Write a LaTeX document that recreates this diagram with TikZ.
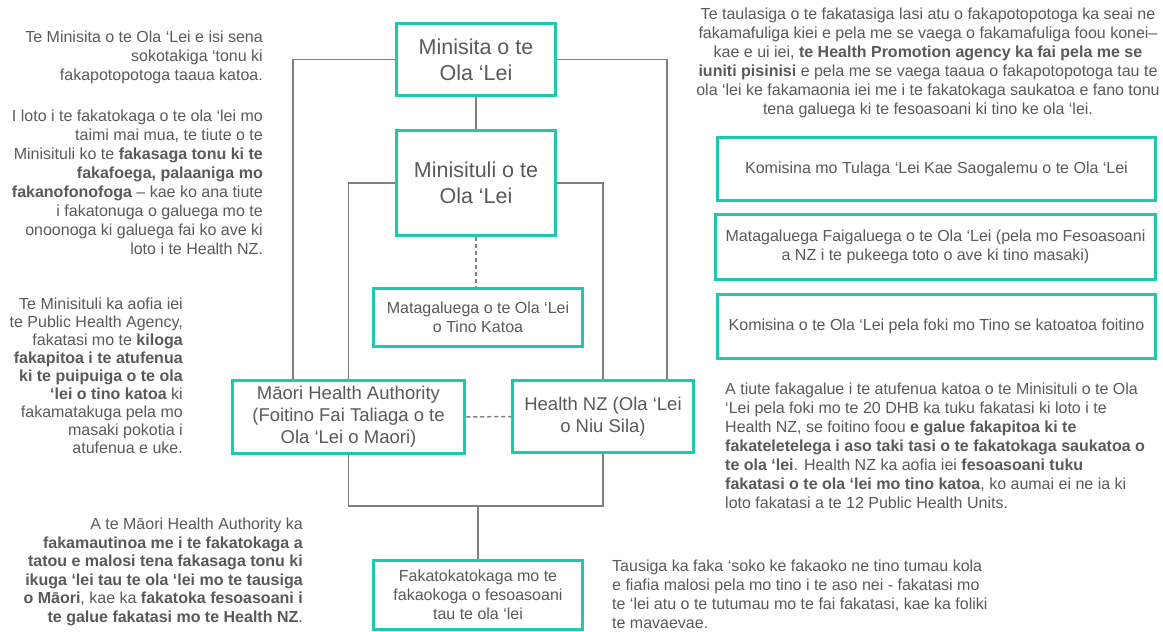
\documentclass[tikz,border=0pt]{standalone}
\usepackage{fontspec}
\setmainfont{Liberation Sans}
\definecolor{teal1}{RGB}{30,200,175}
\definecolor{txt}{RGB}{89,89,89}
\definecolor{wire}{RGB}{128,128,128}
\begin{document}
\begin{tikzpicture}[x=1pt,y=-1pt]
	\tikzstyle{box}=[rectangle,draw=teal1,line width=3.5pt,inner sep=0pt,align=center,text=txt,font=\fontsize{16}{19}\selectfont]
	\tikzstyle{bigbox}=[box,font=\fontsize{21.5}{26}\selectfont]
	\tikzstyle{midbox}=[box,font=\fontsize{18.5}{22}\selectfont]
	\tikzstyle{note}=[inner sep=0pt,text=txt,font=\fontsize{16}{19}\selectfont]
	\tikzstyle{edge}=[draw=wire,line width=1.5pt]
	\tikzstyle{dashedge}=[edge,dash pattern=on 4pt off 3pt]

	\useasboundingbox (0,0) rectangle (1163,632);

	 \node [bigbox,minimum width=159pt,minimum height=72pt] (1) at (476,59.5) {Minisita o te\\Ola ‘Lei};
	 \node [bigbox,minimum width=159pt,minimum height=105pt] (2) at (476,183) {Minisituli o te\\Ola ‘Lei};
	 \node [box,minimum width=209pt,minimum height=58pt] (3) at (478,317.5) {Matagaluega o te Ola ‘Lei\\o Tino Katoa};
	 \node [midbox,minimum width=232pt,minimum height=73pt] (4) at (348.5,417) {Māori Health Authority\\(Foitino Fai Taliaga o te\\Ola ‘Lei o Maori)};
	 \node [midbox,minimum width=181pt,minimum height=72pt] (5) at (603,416.5) {Health NZ (Ola ‘Lei\\o Niu Sila)};
	 \node [box,minimum width=209pt,minimum height=69pt] (6) at (478,595) {Fakatokatokaga mo te\\fakaokoga o fesoasoani\\tau te ola ‘lei};
	 \node [box,minimum width=438pt,minimum height=63pt] (7) at (936.5,169) {Komisina mo Tulaga ‘Lei Kae Saogalemu o te Ola ‘Lei};
	 \node [box,minimum width=440pt,minimum height=65pt] (8) at (935.5,247) {Matagaluega Faigaluega o te Ola ‘Lei (pela mo Fesoasoani\\a NZ i te pukeega toto o ave ki tino masaki)};
	 \node [box,minimum width=438pt,minimum height=64pt] (9) at (936.5,326.5) {Komisina o te Ola ‘Lei pela foki mo Tino se katoatoa foitino};

	 \coordinate (outerL) at (293,59);
	 \coordinate (outerR) at (667,59);
	 \coordinate (join) at (478,506);

	 \path[edge] (1) -- (2);
	 \path[edge] (1.west) -| (4.north -| outerL);
	 \path[edge] (1.east) -| (5.north -| outerR);
	 \path[edge] (2.west) -| (4.north);
	 \path[edge] (2.east) -| (5.north);
	 \path[dashedge] (2.south) -- (2.south |- 3.north);
	 \path[dashedge] (4.east) -- (5.west);
	 \path[edge] (4.south) |- (join) -| (5.south);
	 \path[edge] (join) -- (6.north);

	 \node [note,anchor=north east,align=right] (t1) at (263,31) {Te Minisita o te Ola ‘Lei e isi sena\\sokotakiga ‘tonu ki\\fakapotopotoga taaua katoa.};
	 \node [note,anchor=north east,align=right] (t2) at (263,110) {I loto i te fakatokaga o te ola ‘lei mo\\taimi mai mua, te tiute o te\\Minisituli ko te \textbf{fakasaga tonu ki te}\\\textbf{fakafoega, palaaniga mo}\\\textbf{fakanofonofoga} – kae ko ana tiute\\i fakatonuga o galuega mo te\\onoonoga ki galuega fai ko ave ki\\loto i te Health NZ.};
	 \node [note,anchor=north east,align=right,font=\fontsize{16}{18}\selectfont] (t3) at (183,298) {Te Minisituli ka aofia iei\\te Public Health Agency,\\fakatasi mo te \textbf{kiloga}\\\textbf{fakapitoa i te atufenua}\\\textbf{ki te puipuiga o te ola}\\\textbf{‘lei o tino katoa} ki\\fakamatakuga pela mo\\masaki pokotia i\\atufenua e uke.};
	 \node [note,anchor=north east,align=right,font=\fontsize{16}{18.5}\selectfont] (t4) at (303,518) {A te Māori Health Authority ka\\\textbf{fakamautinoa me i te fakatokaga a}\\\textbf{tatou e malosi tena fakasaga tonu ki}\\\textbf{ikuga ‘lei tau te ola ‘lei mo te tausiga}\\\textbf{o Māori}, kae ka \textbf{fakatoka fesoasoani i}\\\textbf{te galue fakatasi mo te Health NZ}.};
	 \node [note,anchor=north,align=center] (t5) at (928,8) {Te taulasiga o te fakatasiga lasi atu o fakapotopotoga ka seai ne\\fakamafuliga kiei e pela me se vaega o fakamafuliga foou konei–\\kae e ui iei, \textbf{te Health Promotion agency ka fai pela me se}\\\textbf{iuniti pisinisi} e pela me se vaega taaua o fakapotopotoga tau te\\ola ‘lei ke fakamaonia iei me i te fakatokaga saukatoa e fano tonu\\tena galuega ki te fesoasoani ki tino ke ola ‘lei.};
	 \node [note,anchor=north west,align=left] (t6) at (725,383) {A tiute fakagalue i te atufenua katoa o te Minisituli o te Ola\\‘Lei pela foki mo te 20 DHB ka tuku fakatasi ki loto i te\\Health NZ, se foitino foou \textbf{e galue fakapitoa ki te}\\\textbf{fakateletelega i aso taki tasi o te fakatokaga saukatoa o}\\\textbf{te ola ‘lei}. Health NZ ka aofia iei \textbf{fesoasoani tuku}\\\textbf{fakatasi o te ola ‘lei mo tino katoa}, ko aumai ei ne ia ki\\loto fakatasi a te 12 Public Health Units.};
	 \node [note,anchor=north west,align=left] (t7) at (612,560) {Tausiga ka faka ‘soko ke fakaoko ne tino tumau kola\\e fiafia malosi pela mo tino i te aso nei - fakatasi mo\\te ‘lei atu o te tutumau mo te fai fakatasi, kae ka foliki\\te mavaevae.};

  \end{tikzpicture}
\end{document}
